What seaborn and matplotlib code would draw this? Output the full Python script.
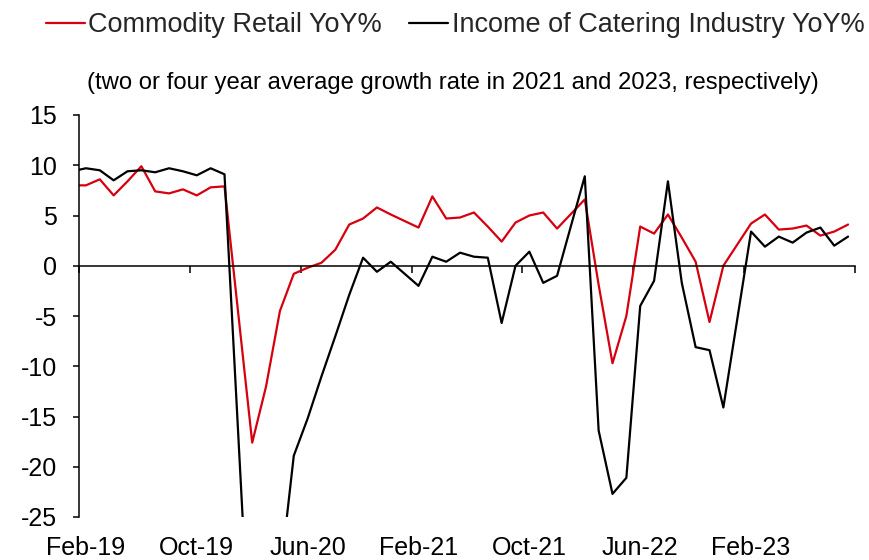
import numpy as np
import pandas as pd
import matplotlib
matplotlib.use("Agg")
import matplotlib.pyplot as plt
import matplotlib.transforms as mtransforms
import seaborn as sns

# ---------------- data ----------------
months = (
    ["2019-%02d" % m for m in range(1, 13)]
    + ["2020-%02d" % m for m in range(2, 13)]
    + ["2021-%02d" % m for m in range(2, 13)]
    + ["2022-%02d" % m for m in range(2, 13)]
    + ["2023-%02d" % m for m in range(2, 10)]
)

retail = [
    8.0, 8.0, 8.6, 7.0, 8.4, 9.9, 7.4, 7.2, 7.6, 7.0, 7.8, 7.9,
    -17.6, -12.0, -4.5, -0.8, -0.2, 0.3, 1.6, 4.1, 4.7, 5.8, 5.1,
    3.8, 6.9, 4.7, 4.8, 5.3, 3.9, 2.4, 4.3, 5.0, 5.3, 3.7,
    6.6, -1.9, -9.7, -5.0, 3.9, 3.2, 5.1, 2.8, 0.4, -5.6, 0.0,
    4.2, 5.1, 3.6, 3.7, 4.0, 3.0, 3.4, 4.1,
]

catering = [
    9.4, 9.7, 9.5, 8.5, 9.4, 9.5, 9.3, 9.7, 9.4, 9.0, 9.7, 9.1,
    -43.1, -46.8, -31.1, -18.9, -15.2, -11.0, -7.0, -2.9, 0.8, -0.6, 0.4,
    -2.0, 0.9, 0.4, 1.3, 0.9, 0.8, -5.7, 0.0, 1.4, -1.7, -1.0,
    8.9, -16.4, -22.7, -21.1, -4.0, -1.5, 8.4, -1.7, -8.1, -8.4, -14.1,
    3.4, 1.9, 2.9, 2.3, 3.3, 3.8, 2.0, 2.9,
]

series_names = ["Commodity Retail YoY%", "Income of Catering Industry YoY%"]
series_colors = ["#D7000F", "#000000"]
x_labels = ["Feb-19", "Oct-19", "Jun-20", "Feb-21", "Oct-21", "Jun-22", "Feb-23"]
y_ticks = [-25, -20, -15, -10, -5, 0, 5, 10, 15]
subtitle = "(two or four year average growth rate in 2021 and 2023, respectively)"

# month slots: Feb-19 occupies [0, 1); points sit at slot centres
dates = pd.to_datetime(months)
xpos = np.asarray((dates.year - 2019) * 12 + (dates.month - 2) + 0.5, dtype=float)

df = pd.DataFrame({
    "x": np.concatenate([xpos, xpos]),
    "value": retail + catering,
    "series": [series_names[0]] * len(xpos) + [series_names[1]] * len(xpos),
})

# ---------------- style ----------------
sns.set_theme(style="ticks")
plt.rcParams["font.family"] = ["Liberation Sans", "DejaVu Sans"]

fig = plt.figure(figsize=(8.7, 5.6), dpi=100)
ax = fig.add_axes([79 / 870, 43 / 560, 776 / 870, 402 / 560])

sns.lineplot(data=df, x="x", y="value", hue="series", hue_order=series_names,
             palette=series_colors, linewidth=1.6, ax=ax, legend=True)

ax.set_xlim(0, 56)
ax.set_ylim(-25, 15)
ax.set_xlabel("")
ax.set_ylabel("")

for s in ["top", "right"]:
    ax.spines[s].set_visible(False)
ax.spines["bottom"].set_position(("data", 0))
for s in ["left", "bottom"]:
    ax.spines[s].set_color("black")
    ax.spines[s].set_linewidth(1.1)

# tick marks every 8 months on the zero line
ax.set_xticks(np.arange(0, 57, 8))
ax.tick_params(axis="x", direction="out", length=5, width=1.1, color="black",
               labelbottom=False, bottom=True)
ax.set_yticks(y_ticks)
ax.set_yticklabels([str(v) for v in y_ticks])
ax.tick_params(axis="y", direction="out", length=4.5, width=1.1, color="black",
               labelsize=18, labelcolor="black", pad=11.5, left=True)

# month labels along the bottom edge, centred on their month slot
trans = mtransforms.blended_transform_factory(ax.transData, ax.transAxes)
label_pos = np.arange(len(x_labels)) * 8 + 0.5
for p, lab in zip(label_pos, x_labels):
    ax.text(p, -0.078, lab, transform=trans, ha="center", va="center",
            fontsize=18, color="black", clip_on=False)

# legend
handles, labels = ax.get_legend_handles_labels()
if ax.get_legend() is not None:
    ax.get_legend().remove()
leg = fig.legend(handles, labels, loc="center", bbox_to_anchor=(455 / 870, 1 - 25 / 560),
                 ncol=2, frameon=False, fontsize=19.5, handlelength=1.45,
                 handletextpad=0.12, columnspacing=1.0)
for h in leg.get_lines():
    h.set_linewidth(1.6)

fig.text(453 / 870, 1 - 83 / 560, subtitle, ha="center", va="center",
         fontsize=17.2, color="black")

fig.savefig("out.png", dpi=100, facecolor="white")
